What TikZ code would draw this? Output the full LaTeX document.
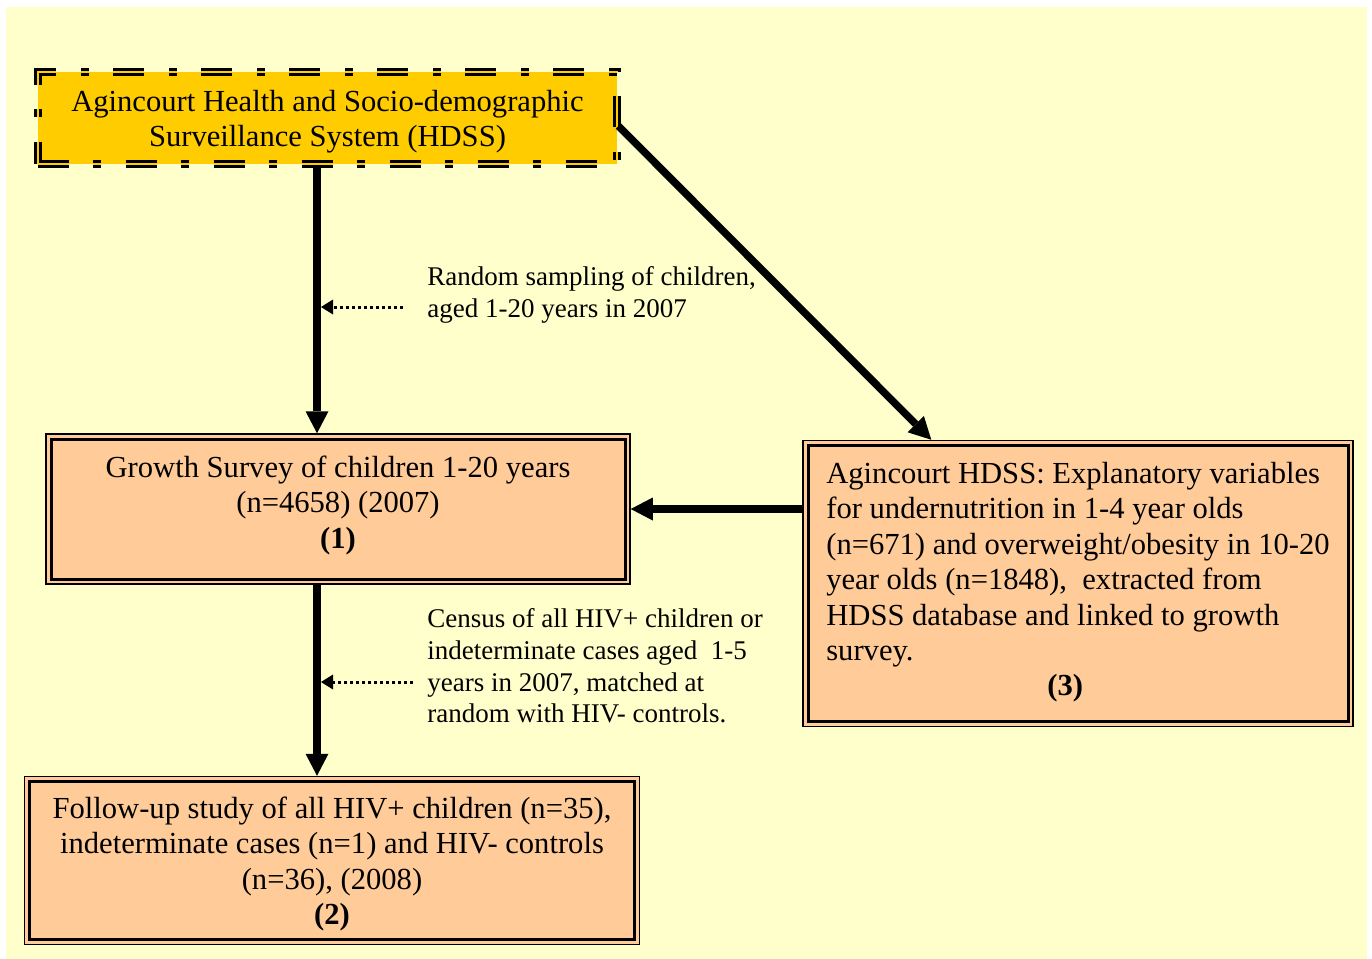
\documentclass[tikz,border=0pt]{standalone}
\usepackage{fontspec}
\setmainfont{Liberation Serif}
\usepackage{tikz}
\usetikzlibrary{arrows.meta,fit,positioning,calc}
\definecolor{paper}{HTML}{FFFFCC}
\definecolor{hdssgold}{HTML}{FFCC00}
\definecolor{peach}{HTML}{FFCC99}
\tikzset{
    %Define standard arrow tip
    >={Triangle[length=11pt,width=11.5pt,line width=0pt]},
    %Define style for boxes
    source/.style={
           rectangle,
           draw=black, line width=1.4pt,
           double=hdssgold, double distance=1.2pt,
           dash pattern=on 15.5pt off 12pt on 4pt off 12.5pt,
           fill=hdssgold,
           minimum width=289.5pt,
           minimum height=46pt,
           inner sep=0pt,
           align=center,
           font=\fontsize{15.3}{17.7}\selectfont},
    study/.style={
           rectangle,
           fill=peach,
           draw=black, line width=1.5pt,
           preaction={draw=peach, line width=5.5pt},
           inner sep=0pt,
           font=\fontsize{15.3}{17.7}\selectfont},
    rim/.style={
           rectangle,
           draw=black, line width=0.75pt,
           inner sep=1.75pt},
    note/.style={
           align=left,
           inner sep=4.5pt,
           font=\fontsize{13.5}{15.8}\selectfont},
    % Define arrow style
    pil/.style={
           ->,
           line width=3.75pt},
    dotpil/.style={
           -{Triangle[length=6pt,width=7.5pt,line width=0pt]},
           line width=1.5pt,
           dash pattern=on 1.65pt off 1.35pt,
           shorten >=2pt}
}
\begin{document}
\begin{tikzpicture}[x=0.5pt,y=-0.5pt]
\useasboundingbox (0,0) rectangle (1372,959);
\fill[paper] (6,7) rectangle (1367,959);
 %nodes
\node[source] (hdss) at (327.5,118) {\rule{0pt}{14pt}Agincourt Health and Socio-demographic\\Surveillance System (HDSS)};
\node[study, minimum width=287pt, minimum height=70pt, align=center] (growth) at (338,509)
  {Growth Survey of children 1-20 years\\(n=4658) (2007)\\\textbf{(1)}\rule[-6.9pt]{0pt}{0pt}};
\node[study, minimum width=270pt, minimum height=138pt, align=left] (linked) at (1078,583.5)
  {Agincourt HDSS: Explanatory variables\\for undernutrition in 1-4 year olds\\(n=671) and overweight/obesity in 10-20\\year olds (n=1848),~ extracted from\\HDSS database and linked to growth\\survey.\\\hspace*{110.5pt}\textbf{(3)}\rule[-4.5pt]{0pt}{0pt}};
\node[study, minimum width=302.5pt, minimum height=79pt, align=center] (followup) at (332,860.5)
  {\rule{0pt}{14.1pt}Follow-up study of all HIV+ children (n=35),\\indeterminate cases (n=1) and HIV- controls\\(n=36), (2008)\\\textbf{(2)}};
\node[rim, fit=(growth)] (growthrim) {};
\node[rim, fit=(linked)] (linkedrim) {};
\node[rim, fit=(followup)] (followuprim) {};
\node[note, anchor=west] (sampling) at (418,295) {Random sampling of children,\\aged 1-20 years in 2007};
\node[note, anchor=west] (census) at (418,666) {Census of all HIV+ children or\\indeterminate cases aged~ 1-5\\years in 2007, matched at\\random with HIV- controls.};
 %arrows
\coordinate (spine) at (317,0);
\coordinate (samplingtip) at ([yshift=-6pt]sampling.west);
\coordinate (censustip) at ([yshift=-8pt]census.west);
\draw[pil] (spine |- hdss.south) -- (spine |- growthrim.north);
\draw[pil] (spine |- growthrim.south) -- (spine |- followuprim.north);
\draw[pil] ([yshift=-4pt]hdss.east) -- ($(linkedrim.north west)!0.234!(linkedrim.north east)$);
\draw[pil] (growthrim.east -| linkedrim.west) -- (growthrim.east);
\draw[dotpil, shorten <=7.5pt] (samplingtip) -- (samplingtip -| spine);
\draw[dotpil, shorten <=2.5pt] (censustip) -- (censustip -| spine);
\end{tikzpicture}
\end{document}
